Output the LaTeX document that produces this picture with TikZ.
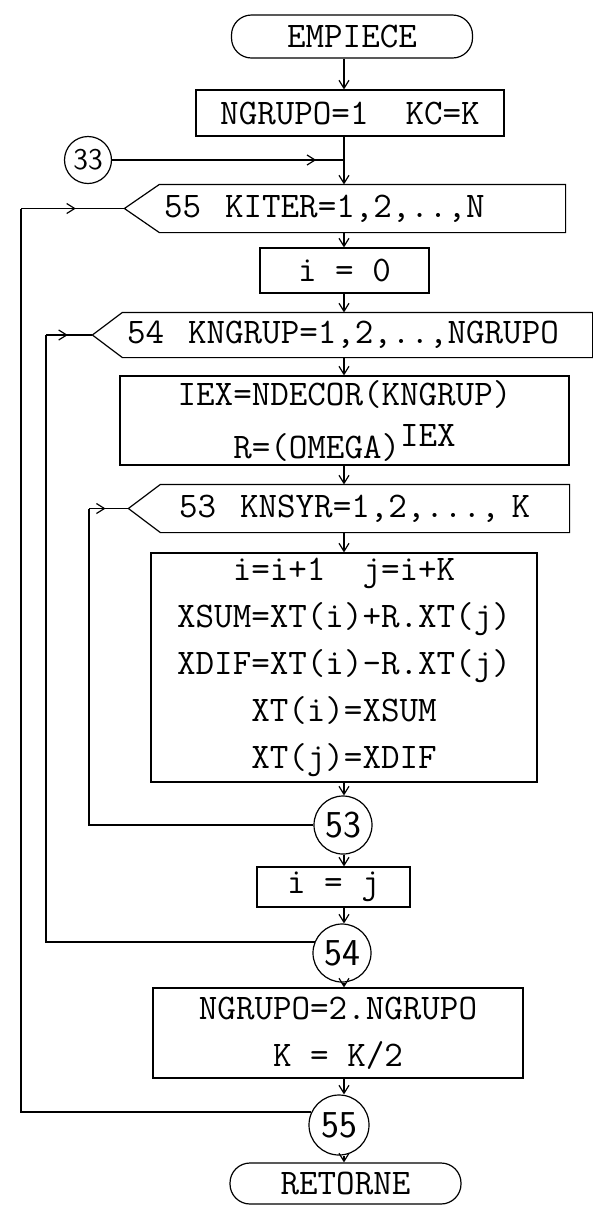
\documentclass[tikz,border=0pt]{standalone}
\usepackage{tikz}
\usetikzlibrary{arrows.meta,decorations.markings}

% outline of a DO header: rectangle part is the node, point on the left
\newcommand{\loophead}[3]{%
  \coordinate (#2) at ([xshift=-#3]#1.west);
  \draw (#1.north west) -- (#1.north east) -- (#1.south east) -- (#1.south west) -- (#2) -- cycle;}

\begin{document}
\begin{tikzpicture}[x=0.5pt, y=-0.5pt, line width=0.6pt,
    every node/.style={font=\fontsize{18}{23.5}\selectfont\ttfamily, inner sep=2pt},
    box/.style={draw, rectangle, align=center},
    term/.style={draw, rectangle, rounded corners=10pt, align=center},
    head/.style={rectangle, text width=#1, align=left},
    conn/.style={draw, circle, inner sep=0pt, minimum size=#1, font=\fontsize{19}{19}\selectfont\sffamily},
    flow/.style={-{Straight Barb[length=4pt,width=5pt]}},
    back/.style={postaction={decorate}, decoration={markings, mark=at position #1 with {\arrow{Straight Barb[length=4pt,width=5pt]}}}}]

    \useasboundingbox (0,0) rectangle (593,1206);
    \coordinate (axis) at (344,0);
    \coordinate (k55) at (21,0);
    \coordinate (k54) at (46,0);
    \coordinate (k53) at (89,0);

    \node (start) [term, minimum width=120.5pt, minimum height=21.5pt] at (352,36.5) {EMPIECE};
    \node (init) [box, minimum width=154pt, minimum height=23pt] at (350,113) {NGRUPO=1~~KC=K};
    \node (c33) [conn=23.5pt, font=\fontsize{15}{15}\selectfont\sffamily] at (88,160) {33};

    \node (h55) [head=198.5pt, minimum height=23.5pt] at (362.5,208.5) {55~~KITER=1,2,..,N};
    \loophead{h55}{t55}{17.5pt}
    \node (izero) [box, minimum width=84.5pt, minimum height=22.5pt] at (344.5,270.5) {i = 0};

    \node (h54) [head=230.5pt, minimum height=22pt] at (357.5,335) {54~~KNGRUP=1,2,..,NGRUPO};
    \loophead{h54}{t54}{15pt}
    \node (iex) [box, minimum width=224.5pt, minimum height=42.5pt] at (344.5,420.5) {IEX=NDECOR(KNGRUP)\\[3pt]R=(OMEGA)\raisebox{6pt}{IEX}};

    \node (h53) [head=200pt, minimum height=23.5pt] at (365,508.5) {\hspace*{7pt}53~~KNSYR=1,2,...,~K};
    \loophead{h53}{t53}{16pt}
    \node (butterfly) [box, minimum width=193pt, minimum height=114.5pt] at (344,667.5) {i=i+1~~j=i+K\\XSUM=XT(i)+R.XT(j)\\XDIF=XT(i)-R.XT(j)\\XT(i)=XSUM\\XT(j)=XDIF};
    \node (c53) [conn=29pt] at (343,825) {53};
    \node (ij) [box, minimum width=76.5pt, minimum height=20pt] at (333.5,887) {i = j};
    \node (c54) [conn=29pt] at (342,953) {54};
    \node (grow) [box, minimum width=185pt, minimum height=45pt] at (338,1033) {NGRUPO=2.NGRUPO\\K = K/2};
    \node (c55) [conn=30pt] at (339,1125) {55};
    \node (stop) [term, minimum width=115.5pt, minimum height=20.5pt] at (345.5,1183.5) {RETORNE};

    % main line
    \draw[flow] (start.south -| axis) -- (init.north -| axis);
    \draw[flow] (init.south -| axis) -- (h55.north -| axis);
    \draw[back=0.88] (c33.east) -- (c33.east -| axis);
    \draw[flow] (h55.south -| axis) -- (izero.north -| axis);
    \draw[flow] (izero.south -| axis) -- (h54.north -| axis);
    \draw[flow] (h54.south -| axis) -- (iex.north -| axis);
    \draw[flow] (iex.south -| axis) -- (h53.north -| axis);
    \draw[flow] (h53.south -| axis) -- (butterfly.north -| axis);
    \draw[flow] (butterfly.south -| axis) -- (c53.north -| axis);
    \draw[flow] (c53.south -| axis) -- (ij.north -| axis);
    \draw[flow] (ij.south -| axis) -- (c54.north -| axis);
    \draw[flow] (c54.south -| axis) -- (grow.north -| axis);
    \draw[flow] (grow.south -| axis) -- (c55.north -| axis);
    \draw[flow] (c55.south -| axis) -- (stop.north -| axis);

    % loop returns
    \draw (c53.west) -| (k53 |- t53);
    \draw[back=0.42] (k53 |- t53) -- (t53);
    \draw (c54.158) -| (k54 |- t54);
    \draw[back=0.47] (k54 |- t54) -- (t54);
    \draw (c55.155) -| (k55 |- t55);
    \draw[back=0.53] (k55 |- t55) -- (t55);
\end{tikzpicture}
\end{document}
